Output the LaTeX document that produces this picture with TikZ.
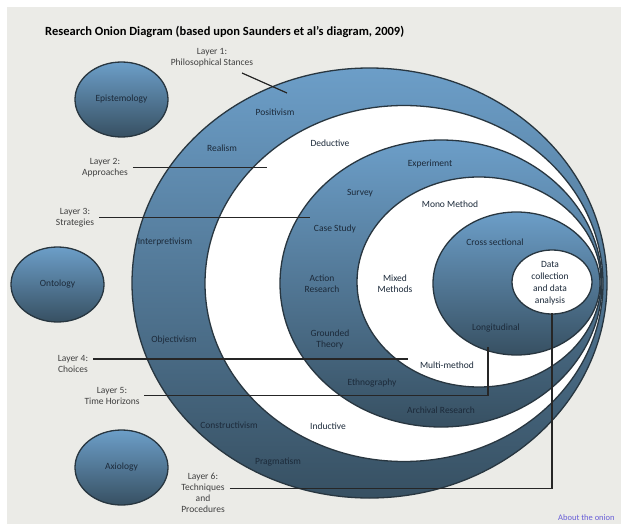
\documentclass[tikz,border=0pt]{standalone}
\usepackage{fontspec}
\setmainfont{Carlito}
\usetikzlibrary{shapes.geometric}
\definecolor{panel}{RGB}{235,235,231}
\definecolor{ringtop}{RGB}{108,158,200}
\definecolor{ringbot}{RGB}{55,80,98}
\definecolor{rim}{RGB}{40,54,64}
\definecolor{ink}{RGB}{28,42,58}
\definecolor{about}{RGB}{105,95,215}

\begin{document}
\begin{tikzpicture}[x=1pt, y=-1pt,
  ring/.style={draw=rim, line width=1.3pt, top color=ringtop, bottom color=ringbot},
  hole/.style={draw=rim, line width=1.3pt, fill=white},
  side/.style={ellipse, ring, minimum width=93pt, minimum height=75pt, inner sep=0pt,
    font=\fontsize{9.5}{10}\selectfont, text=ink},
  lbl/.style={font=\fontsize{9.5}{11}\selectfont, text=ink, align=center, inner sep=1pt},
  layer/.style={font=\fontsize{9.5}{11}\selectfont, text=black!75, align=center, inner sep=1pt, outer sep=4pt},
  lead/.style={draw=black!85, line width=1.2pt}]
  \useasboundingbox (0,0) rectangle (621,524);
  \fill[white] (0,0) rectangle (621,524);
  \fill[panel] (7,7) rectangle (621,524);

  \node[anchor=west, inner sep=0pt, font=\bfseries\fontsize{12.5}{14}\selectfont] (title) at (45,32)
    {Research Onion Diagram (based upon Saunders et al's diagram, 2009)};

  % the onion, outer layer first; all rings meet on the right
  \draw[ring] (369.5,283) ellipse [x radius=237.5pt, y radius=215pt];
  \draw[hole] (404,283.5) ellipse [x radius=199pt, y radius=178pt];
  \draw[ring] (441,283.5) ellipse [x radius=161pt, y radius=143.5pt];
  \draw[hole] (479,282) ellipse [x radius=122pt, y radius=105pt];
  \draw[ring] (516.5,283.5) ellipse [x radius=83.5pt, y radius=71.5pt];
  \draw[hole] (552,282) ellipse [x radius=40pt, y radius=32pt];

  \node[side] (epi) at (121.5,99.5) {Epistemology};
  \node[side] (onto) at (57.5,284.5) {Ontology};
  \node[side] (axio) at (121.5,467.5) {Axiology};

  % layer 1: philosophies
  \node[lbl] (posit) at (275,112) {Positivism};
  \node[lbl] (realism) at (222,148) {Realism};
  \node[lbl] (interp) at (165,242) {Interpretivism};
  \node[lbl] (object) at (174,340) {Objectivism};
  \node[lbl] (constr) at (229,425) {Constructivism};
  \node[lbl] (pragm) at (278,462) {Pragmatism};
  % layer 2: approaches
  \node[lbl] (deduct) at (330,143) {Deductive};
  \node[lbl] (induct) at (328,426) {Inductive};
  % layer 3: strategies
  \node[lbl] (exper) at (430,164) {Experiment};
  \node[lbl] (survey) at (360,193) {Survey};
  \node[lbl] (case) at (335,229) {Case Study};
  \node[lbl] (action) at (322,284) {Action\\Research};
  \node[lbl] (ground) at (330,339) {Grounded\\Theory};
  \node[lbl] (ethno) at (372,383) {Ethnography};
  \node[lbl] (archiv) at (441,410) {Archival Research};
  % layer 4: choices
  \node[lbl] (mono) at (450,204) {Mono Method};
  \node[lbl] (mixed) at (395,284) {Mixed\\Methods};
  \node[lbl] (multi) at (447,365) {Multi-method};
  % layer 5: time horizons
  \node[lbl] (cross) at (495,242) {Cross sectional};
  \node[lbl] (longit) at (496,328) {Longitudinal};
  % core
  \node[lbl, font=\fontsize{9.5}{12}\selectfont] (core) at (550,283.5) {Data\\collection\\and data\\analysis};

  % layer captions and their leaders
  \node[layer] (lay1) at (212,57.5) {Layer 1:\\Philosophical Stances};
  \node[layer] (lay2) at (105,167.5) {Layer 2:\\Approaches};
  \node[layer] (lay3) at (75,217.5) {Layer 3:\\Strategies};
  \node[layer] (lay4) at (73,364) {Layer 4:\\Choices};
  \node[layer] (lay5) at (112,395.5) {Layer 5:\\Time Horizons};
  \node[layer] (lay6) at (203,492.5) {Layer 6:\\Techniques\\and\\Procedures};
  \coordinate (S1) at (242,73);
  \coordinate (T1) at (287,93);
  \coordinate (T2) at (267,167.5);
  \coordinate (T3) at (310,217.5);
  \coordinate (T4) at (408,359);
  \coordinate (T5) at (488,347);
  \coordinate (T6) at (552,313);
  \draw[lead] (S1) -- (T1);
  \draw[lead] (lay2.east) -- (T2);
  \draw[lead] (lay3.east) -- (T3);
  \draw[lead] (lay4.east |- T4) -- (T4);
  \draw[lead] (lay5.east) -| (T5);
  \draw[lead] ([yshift=4pt]lay6.east) -| (T6);

  \node[anchor=west, text=about, inner sep=0pt, font=\fontsize{8.5}{10}\selectfont] (about) at (558,518) {About the onion};
\end{tikzpicture}
\end{document}
